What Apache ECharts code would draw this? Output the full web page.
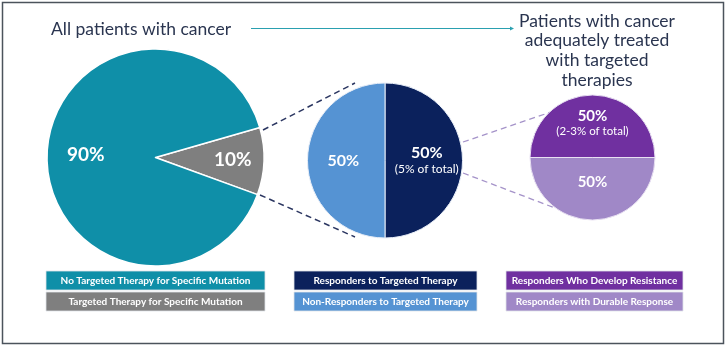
<!DOCTYPE html>
<html><head><meta charset="utf-8">
<script src="https://cdn.jsdelivr.net/npm/echarts@6/dist/echarts.min.js"></script>
<style>html,body{margin:0;padding:0;background:#fff}#c{width:727px;height:347px}</style>
</head><body><div id="c"></div>
<script>
// ---- data ----
const allCats = ['Targeted Therapy for Specific Mutation', 'No Targeted Therapy for Specific Mutation'];
const allVals = [10, 90];
const targetedCats = ['Responders to Targeted Therapy', 'Non-Responders to Targeted Therapy'];
const targetedVals = [50, 50];
const targetedNotes = ['(5% of total)', ''];
const responderCats = ['Responders Who Develop Resistance', 'Responders with Durable Response'];
const responderVals = [50, 50];
const responderNotes = ['(2-3% of total)', ''];
const leftTitle = 'All patients with cancer';
const rightTitle = ['Patients with cancer', 'adequately treated', 'with targeted', 'therapies'];
const legendRows = [
  ['No Targeted Therapy for Specific Mutation', 'Responders to Targeted Therapy', 'Responders Who Develop Resistance'],
  ['Targeted Therapy for Specific Mutation', 'Non-Responders to Targeted Therapy', 'Responders with Durable Response']
];

// ---- styles ----
const colorMap = {
  'No Targeted Therapy for Specific Mutation': '#0f8fa8',
  'Targeted Therapy for Specific Mutation': '#7f7f7f',
  'Responders to Targeted Therapy': '#0b215c',
  'Non-Responders to Targeted Therapy': '#5593d3',
  'Responders Who Develop Resistance': '#7030a0',
  'Responders with Durable Response': '#a088c7'
};
const FONT = '"Century Gothic","URW Gothic","Lato","Noto Sans",sans-serif';
const P1 = {c: [155.5, 157.5], r: 108.5};
const P2 = {c: [385, 160.5], r: 77.5};
const P3 = {c: [592.5, 157.5], r: 62.5};

const chart = echarts.init(document.getElementById('c'), null, {renderer: 'canvas'});

function mk(cats, vals, extra) {
  return cats.map((n, i) => Object.assign({name: n, value: vals[i], itemStyle: {color: colorMap[n]}}, extra ? extra(i) : {}));
}
// transparent label-only overlay for the big pie (one per slice, to place each label)
function overlay(inner, showIdx) {
  return {
    type: 'pie', center: P1.c, radius: [inner, P1.r], startAngle: 16, silent: true,
    label: {show: true, position: 'inside', formatter: p => p.value + '%', color: '#fff', fontFamily: FONT, fontWeight: 'bold', fontSize: 19},
    labelLine: {show: false},
    data: allCats.map((n, i) => ({name: n, value: allVals[i], itemStyle: {color: 'rgba(0,0,0,0)'}, label: {show: i === showIdx}}))
  };
}

const series = [
  {
    type: 'pie', center: P1.c, radius: P1.r, startAngle: 16, clockwise: true, silent: true,
    label: {show: false}, labelLine: {show: false},
    itemStyle: {borderColor: '#ffffff', borderWidth: 1.5},
    data: mk(allCats, allVals)
  },
  overlay(25, 1),
  overlay(40, 0),
  {
    type: 'pie', center: P2.c, radius: P2.r, startAngle: 90, silent: true,
    itemStyle: {borderColor: '#e8eef8', borderWidth: 1},
    label: {
      show: true, position: 'inside', color: '#fff', fontFamily: FONT,
      formatter: p => targetedNotes[p.dataIndex] ? '{b|' + p.value + '%}\n{s|' + targetedNotes[p.dataIndex] + '}' : '{b|' + p.value + '%}',
      rich: {b: {fontSize: 16, fontWeight: 'bold', color: '#fff', fontFamily: FONT, lineHeight: 18},
             s: {fontSize: 12, color: '#fff', fontFamily: FONT, lineHeight: 15}}
    },
    labelLine: {show: false},
    data: mk(targetedCats, targetedVals)
  },
  {
    type: 'pie', center: P3.c, radius: P3.r, startAngle: 180, silent: true,
    itemStyle: {borderColor: '#e8e0f2', borderWidth: 1},
    label: {
      show: true, position: 'inside', color: '#fff', fontFamily: FONT,
      formatter: p => responderNotes[p.dataIndex] ? '{b|' + p.value + '%}\n{s|' + responderNotes[p.dataIndex] + '}' : '{b|' + p.value + '%}',
      rich: {b: {fontSize: 15, fontWeight: 'bold', color: '#fff', fontFamily: FONT, lineHeight: 17},
             s: {fontSize: 11.5, color: '#fff', fontFamily: FONT, lineHeight: 14}}
    },
    labelLine: {show: false},
    data: mk(responderCats, responderVals, i => i === 1 ? {label: {padding: [0, 0, 20, 0]}} : {})
  }
];

// ---- decoration graphics ----
const g = [];
g.push({type: 'rect', shape: {x: 2.5, y: 2.5, width: 721, height: 341}, style: {fill: 'none', stroke: '#4b535c', lineWidth: 1.5}, z: 100});
g.push({type: 'text', style: {text: leftTitle, x: 51, y: 29, font: '17.5px ' + FONT, fill: '#2a3550', textVerticalAlign: 'middle'}});
g.push({type: 'line', shape: {x1: 251, y1: 28.5, x2: 510, y2: 28.5}, style: {stroke: '#2aa0b0', lineWidth: 1}});
g.push({type: 'polygon', shape: {points: [[510, 26.5], [514, 28.5], [510, 30.5]]}, style: {fill: '#2aa0b0'}});
rightTitle.forEach((t, i) => g.push({type: 'text', style: {text: t, x: 597, y: 21 + i * 19.7, font: '17.5px ' + FONT, fill: '#2a3550', textAlign: 'center', textVerticalAlign: 'middle'}}));
// connectors
const dashN = {stroke: '#2a3560', lineWidth: 1.5, lineDash: [6, 4]};
const dashP = {stroke: '#a593c9', lineWidth: 1.3, lineDash: [6, 4]};
g.push({type: 'line', shape: {x1: 263, y1: 130, x2: 355, y2: 83}, style: dashN});
g.push({type: 'line', shape: {x1: 260, y1: 195, x2: 355, y2: 237}, style: dashN});
g.push({type: 'line', shape: {x1: 463, y1: 142, x2: 551, y2: 112}, style: dashP});
g.push({type: 'line', shape: {x1: 463, y1: 173, x2: 555, y2: 208}, style: dashP});
// legend boxes
const cols = [{x: 46, w: 219}, {x: 294, w: 183}, {x: 506, w: 177}];
const rowsY = [271, 292];
legendRows.forEach((row, ri) => row.forEach((name, ci) => {
  const c = cols[ci];
  g.push({type: 'rect', shape: {x: c.x, y: rowsY[ri], width: c.w, height: 19}, style: {fill: colorMap[name], stroke: '#dfe3e8', lineWidth: 0.8}});
  g.push({type: 'text', style: {text: name, x: c.x + c.w / 2, y: rowsY[ri] + 9.5, font: 'bold 10px ' + FONT, fill: '#fff', textAlign: 'center', textVerticalAlign: 'middle'}});
}));

chart.setOption({animation: false, backgroundColor: '#fff', series: series, graphic: {elements: g}});
</script></body></html>
